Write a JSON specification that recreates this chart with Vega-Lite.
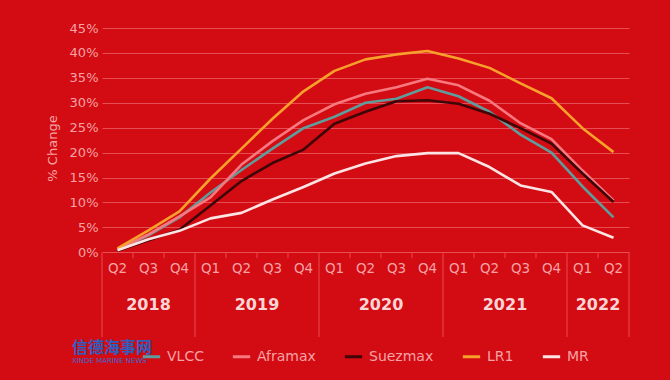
{
  "$schema": "https://vega.github.io/schema/vega-lite/v6.json",
  "width": 527,
  "height": 309,
  "autosize": {"type": "none"},
  "padding": {"left": 102, "top": 28, "right": 41, "bottom": 43},
  "background": "#d30b12",
  "config": {
    "view": {"stroke": null},
    "font": "DejaVu Sans",
    "axisY": {
      "labelOverlap": false,
      "grid": true,
      "gridColor": "#f06a70",
      "gridOpacity": 0.7,
      "gridWidth": 1,
      "domain": false,
      "ticks": false,
      "labelPadding": 4,
      "labelColor": "#f6a3a6",
      "labelFontSize": 13,
      "titleColor": "#f6a3a6",
      "titleFontSize": 13,
      "titleFontWeight": "normal",
      "titleY": 120,
      "titlePadding": 10
    }
  },
  "title": {
    "text": "信德海事网",
    "subtitle": "XINDE MARINE NEWS",
    "orient": "bottom",
    "anchor": "start",
    "frame": "group",
    "dx": -30,
    "offset": -24,
    "font": "Noto Sans CJK SC",
    "fontSize": 16,
    "fontWeight": "bold",
    "color": "#2b5fc0",
    "subtitleFont": "DejaVu Sans",
    "subtitleFontSize": 7,
    "subtitleColor": "#3a6ad0",
    "subtitlePadding": 1
  },
  "datasets": {
    "series": [
      {"idx": 0, "series": "VLCC", "value": 0.5}, {"idx": 1, "series": "VLCC", "value": 3.4}, {"idx": 2, "series": "VLCC", "value": 7.0}, {"idx": 3, "series": "VLCC", "value": 12.0}, {"idx": 4, "series": "VLCC", "value": 16.5}, {"idx": 5, "series": "VLCC", "value": 20.8}, {"idx": 6, "series": "VLCC", "value": 24.9}, {"idx": 7, "series": "VLCC", "value": 27.2}, {"idx": 8, "series": "VLCC", "value": 30.0}, {"idx": 9, "series": "VLCC", "value": 30.8}, {"idx": 10, "series": "VLCC", "value": 33.1}, {"idx": 11, "series": "VLCC", "value": 31.3}, {"idx": 12, "series": "VLCC", "value": 28.2}, {"idx": 13, "series": "VLCC", "value": 23.6}, {"idx": 14, "series": "VLCC", "value": 20.0}, {"idx": 15, "series": "VLCC", "value": 13.2}, {"idx": 16, "series": "VLCC", "value": 7.0},
      {"idx": 0, "series": "Aframax", "value": 0.5}, {"idx": 1, "series": "Aframax", "value": 3.6}, {"idx": 2, "series": "Aframax", "value": 7.2}, {"idx": 3, "series": "Aframax", "value": 11.0}, {"idx": 4, "series": "Aframax", "value": 17.6}, {"idx": 5, "series": "Aframax", "value": 22.3}, {"idx": 6, "series": "Aframax", "value": 26.5}, {"idx": 7, "series": "Aframax", "value": 29.7}, {"idx": 8, "series": "Aframax", "value": 31.8}, {"idx": 9, "series": "Aframax", "value": 33.1}, {"idx": 10, "series": "Aframax", "value": 34.8}, {"idx": 11, "series": "Aframax", "value": 33.5}, {"idx": 12, "series": "Aframax", "value": 30.4}, {"idx": 13, "series": "Aframax", "value": 25.9}, {"idx": 14, "series": "Aframax", "value": 22.7}, {"idx": 15, "series": "Aframax", "value": 16.4}, {"idx": 16, "series": "Aframax", "value": 10.4},
      {"idx": 0, "series": "Suezmax", "value": 0.3}, {"idx": 1, "series": "Suezmax", "value": 2.4}, {"idx": 2, "series": "Suezmax", "value": 4.5}, {"idx": 3, "series": "Suezmax", "value": 9.4}, {"idx": 4, "series": "Suezmax", "value": 14.3}, {"idx": 5, "series": "Suezmax", "value": 17.9}, {"idx": 6, "series": "Suezmax", "value": 20.6}, {"idx": 7, "series": "Suezmax", "value": 25.8}, {"idx": 8, "series": "Suezmax", "value": 28.2}, {"idx": 9, "series": "Suezmax", "value": 30.3}, {"idx": 10, "series": "Suezmax", "value": 30.5}, {"idx": 11, "series": "Suezmax", "value": 29.8}, {"idx": 12, "series": "Suezmax", "value": 27.8}, {"idx": 13, "series": "Suezmax", "value": 24.9}, {"idx": 14, "series": "Suezmax", "value": 21.8}, {"idx": 15, "series": "Suezmax", "value": 15.8}, {"idx": 16, "series": "Suezmax", "value": 10.1},
      {"idx": 0, "series": "LR1", "value": 0.8}, {"idx": 1, "series": "LR1", "value": 4.4}, {"idx": 2, "series": "LR1", "value": 8.2}, {"idx": 3, "series": "LR1", "value": 14.8}, {"idx": 4, "series": "LR1", "value": 20.8}, {"idx": 5, "series": "LR1", "value": 26.8}, {"idx": 6, "series": "LR1", "value": 32.3}, {"idx": 7, "series": "LR1", "value": 36.4}, {"idx": 8, "series": "LR1", "value": 38.7}, {"idx": 9, "series": "LR1", "value": 39.7}, {"idx": 10, "series": "LR1", "value": 40.4}, {"idx": 11, "series": "LR1", "value": 38.9}, {"idx": 12, "series": "LR1", "value": 37.0}, {"idx": 13, "series": "LR1", "value": 33.9}, {"idx": 14, "series": "LR1", "value": 30.9}, {"idx": 15, "series": "LR1", "value": 24.9}, {"idx": 16, "series": "LR1", "value": 20.1},
      {"idx": 0, "series": "MR", "value": 0.4}, {"idx": 1, "series": "MR", "value": 2.6}, {"idx": 2, "series": "MR", "value": 4.3}, {"idx": 3, "series": "MR", "value": 6.8}, {"idx": 4, "series": "MR", "value": 7.9}, {"idx": 5, "series": "MR", "value": 10.6}, {"idx": 6, "series": "MR", "value": 13.1}, {"idx": 7, "series": "MR", "value": 15.8}, {"idx": 8, "series": "MR", "value": 17.8}, {"idx": 9, "series": "MR", "value": 19.3}, {"idx": 10, "series": "MR", "value": 19.9}, {"idx": 11, "series": "MR", "value": 19.9}, {"idx": 12, "series": "MR", "value": 17.1}, {"idx": 13, "series": "MR", "value": 13.4}, {"idx": 14, "series": "MR", "value": 12.1}, {"idx": 15, "series": "MR", "value": 5.4}, {"idx": 16, "series": "MR", "value": 2.9}
    ],
    "periods": [
      {"idx": 0, "quarter": "Q2"}, {"idx": 1, "quarter": "Q3"}, {"idx": 2, "quarter": "Q4"},
      {"idx": 3, "quarter": "Q1"}, {"idx": 4, "quarter": "Q2"}, {"idx": 5, "quarter": "Q3"}, {"idx": 6, "quarter": "Q4"},
      {"idx": 7, "quarter": "Q1"}, {"idx": 8, "quarter": "Q2"}, {"idx": 9, "quarter": "Q3"}, {"idx": 10, "quarter": "Q4"},
      {"idx": 11, "quarter": "Q1"}, {"idx": 12, "quarter": "Q2"}, {"idx": 13, "quarter": "Q3"}, {"idx": 14, "quarter": "Q4"},
      {"idx": 15, "quarter": "Q1"}, {"idx": 16, "quarter": "Q2"}
    ],
    "years": [
      {"center": 1, "year": "2018"}, {"center": 4.5, "year": "2019"}, {"center": 8.5, "year": "2020"}, {"center": 12.5, "year": "2021"}, {"center": 15.5, "year": "2022"}
    ],
    "seps": [{"at": -0.5}, {"at": 2.5}, {"at": 6.5}, {"at": 10.5}, {"at": 14.5}, {"at": 16.5}],
    "qticks": [{"at": 0.5}, {"at": 1.5}, {"at": 3.5}, {"at": 4.5}, {"at": 5.5}, {"at": 7.5}, {"at": 8.5}, {"at": 9.5}, {"at": 11.5}, {"at": 12.5}, {"at": 13.5}, {"at": 15.5}]
  },
  "layer": [
    {
      "data": {"name": "series"},
      "mark": {"type": "line", "strokeWidth": 2.6, "strokeJoin": "round"},
      "encoding": {
        "x": {"field": "idx", "type": "quantitative", "scale": {"domain": [-0.5, 16.5], "nice": false, "zero": false}, "axis": null},
        "y": {
          "field": "value",
          "type": "quantitative",
          "scale": {"domain": [-17, 45], "nice": false, "zero": false},
          "axis": {"values": [0, 5, 10, 15, 20, 25, 30, 35, 40, 45], "labelExpr": "datum.value + '%'", "title": "% Change"}
        },
        "color": {
          "field": "series",
          "type": "nominal",
          "scale": {"domain": ["VLCC", "Aframax", "Suezmax", "LR1", "MR"], "range": ["#5f9c9c", "#f7787f", "#3e0606", "#f7a12c", "#fde4e4"]},
          "legend": {
            "orient": "none",
            "legendX": 39,
            "legendY": 318,
            "direction": "horizontal",
            "title": null,
            "symbolType": "stroke",
            "symbolSize": 300,
            "symbolStrokeWidth": 3,
            "labelFontSize": 14,
            "labelColor": "#f6a3a6",
            "labelOffset": 5,
            "columnPadding": 22
          }
        }
      }
    },
    {
      "data": {"name": "seps"},
      "mark": {"type": "rule", "color": "#e94a4e", "strokeWidth": 1},
      "encoding": {
        "x": {"field": "at", "type": "quantitative"},
        "y": {"datum": 0, "type": "quantitative", "axis": {"values": [0, 5, 10, 15, 20, 25, 30, 35, 40, 45], "labelExpr": "datum.value + '%'", "title": "% Change"}},
        "y2": {"datum": -17}
      }
    },
    {
      "data": {"name": "qticks"},
      "mark": {"type": "rule", "color": "#e94a4e", "strokeWidth": 1},
      "encoding": {
        "x": {"field": "at", "type": "quantitative"},
        "y": {"datum": 0, "type": "quantitative", "axis": {"values": [0, 5, 10, 15, 20, 25, 30, 35, 40, 45], "labelExpr": "datum.value + '%'", "title": "% Change"}},
        "y2": {"datum": -1.2}
      }
    },
    {
      "data": {"name": "periods"},
      "mark": {"type": "text", "color": "#f6a3a6", "fontSize": 13.5, "baseline": "middle", "align": "center"},
      "encoding": {
        "x": {"field": "idx", "type": "quantitative"},
        "y": {"datum": -3.3, "type": "quantitative", "axis": {"values": [0, 5, 10, 15, 20, 25, 30, 35, 40, 45], "labelExpr": "datum.value + '%'", "title": "% Change"}},
        "text": {"field": "quarter"}
      }
    },
    {
      "data": {"name": "years"},
      "mark": {"type": "text", "color": "#fcd6d6", "fontSize": 16, "fontWeight": "bold", "baseline": "middle", "align": "center"},
      "encoding": {
        "x": {"field": "center", "type": "quantitative"},
        "y": {"datum": -10.6, "type": "quantitative", "axis": {"values": [0, 5, 10, 15, 20, 25, 30, 35, 40, 45], "labelExpr": "datum.value + '%'", "title": "% Change"}},
        "text": {"field": "year"}
      }
    }
  ]
}
